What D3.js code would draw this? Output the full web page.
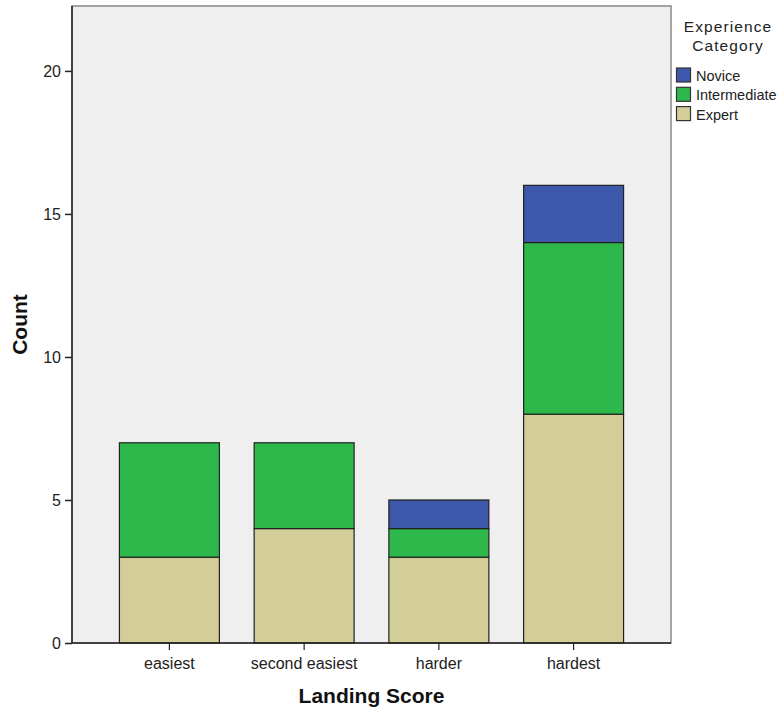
<!DOCTYPE html>
<html><head><meta charset="utf-8">
<script src="https://cdn.jsdelivr.net/npm/d3@7"></script>
<style>body{margin:0;background:#fff;} text{font-family:"Liberation Sans",Arial,sans-serif;}</style>
</head><body>
<svg id="c" width="780" height="710"></svg>
<script>
const categories = ["easiest", "second easiest", "harder", "hardest"];
const seriesNames = ["Expert", "Intermediate", "Novice"];
const expert = [3, 4, 3, 8];
const intermediate = [4, 3, 1, 6];
const novice = [0, 0, 1, 2];
const yTicks = [0, 5, 10, 15, 20];
const legendOrder = ["Novice", "Intermediate", "Expert"];
const colors = {Expert: "#D3CE97", Intermediate: "#2EB84B", Novice: "#3D58AB"};

const svg = d3.select("#c");
const L = 72, R = 671, T = 6, B = 643;
const x = d3.scaleBand().domain(categories).range([L, R]).paddingInner(0.258).paddingOuter(0.352);
const y = d3.scaleLinear().domain([0, 22.27]).range([B, T]);

svg.append("rect").attr("x", L).attr("y", T).attr("width", R - L).attr("height", B - T)
  .attr("fill", "#EFEFEF").attr("stroke", "#888").attr("stroke-width", 1.5);

const data = categories.map((c, i) => ({cat: c, Expert: expert[i], Intermediate: intermediate[i], Novice: novice[i]}));
const stacked = d3.stack().keys(seriesNames)(data);

stacked.forEach(s => {
  svg.append("g").selectAll("rect").data(s.filter(d => d[1] > d[0])).join("rect")
    .attr("x", d => x(d.data.cat)).attr("width", x.bandwidth())
    .attr("y", d => y(d[1])).attr("height", d => y(d[0]) - y(d[1]))
    .attr("fill", colors[s.key]).attr("stroke", "#222").attr("stroke-width", 1.2);
});

const font = "Liberation Sans, Arial, sans-serif";
// axes
const ya = svg.append("g").attr("transform", `translate(${L},0)`)
  .call(d3.axisLeft(y).tickValues(yTicks).tickSize(7).tickPadding(4));
ya.select(".domain").attr("stroke", "#222").attr("stroke-width", 1.5).attr("d", `M0,${T}V${B}`);
ya.selectAll(".tick line").attr("stroke", "#222").attr("stroke-width", 1.5);
ya.selectAll(".tick text").attr("font-size", 16).attr("fill", "#222").style("font-family", font);

const xa = svg.append("g").attr("transform", `translate(0,${B})`)
  .call(d3.axisBottom(x).tickSize(7).tickPadding(8));
xa.select(".domain").attr("stroke", "#222").attr("stroke-width", 1.5).attr("d", `M${L},0H${R}`);
xa.selectAll(".tick line").attr("stroke", "#222").attr("stroke-width", 1.2);
xa.selectAll(".tick text").attr("font-size", 16).attr("fill", "#222").style("font-family", font);

svg.append("text").attr("x", (L + R) / 2).attr("y", 703).attr("text-anchor", "middle")
  .attr("font-size", 21).attr("font-weight", "bold").attr("fill", "#111").text("Landing Score");
svg.append("text").attr("transform", `translate(27,${(T + B) / 2}) rotate(-90)`).attr("text-anchor", "middle")
  .attr("font-size", 21).attr("font-weight", "bold").attr("fill", "#111").text("Count");

// legend
const lg = svg.append("g");
lg.append("text").attr("x", 728).attr("y", 32).attr("text-anchor", "middle").attr("font-size", 15.5)
  .attr("letter-spacing", 1.1).attr("fill", "#222").text("Experience");
lg.append("text").attr("x", 728).attr("y", 51).attr("text-anchor", "middle").attr("font-size", 15.5)
  .attr("letter-spacing", 1.1).attr("fill", "#222").text("Category");
legendOrder.forEach((k, i) => {
  lg.append("rect").attr("x", 676.5).attr("y", 68 + i * 19.3).attr("width", 14).attr("height", 14)
    .attr("fill", colors[k]).attr("stroke", "#333").attr("stroke-width", 1.2);
  lg.append("text").attr("x", 696).attr("y", 81 + i * 19.3).attr("font-size", 14.5).attr("fill", "#222").text(k);
});
</script>
</body></html>
